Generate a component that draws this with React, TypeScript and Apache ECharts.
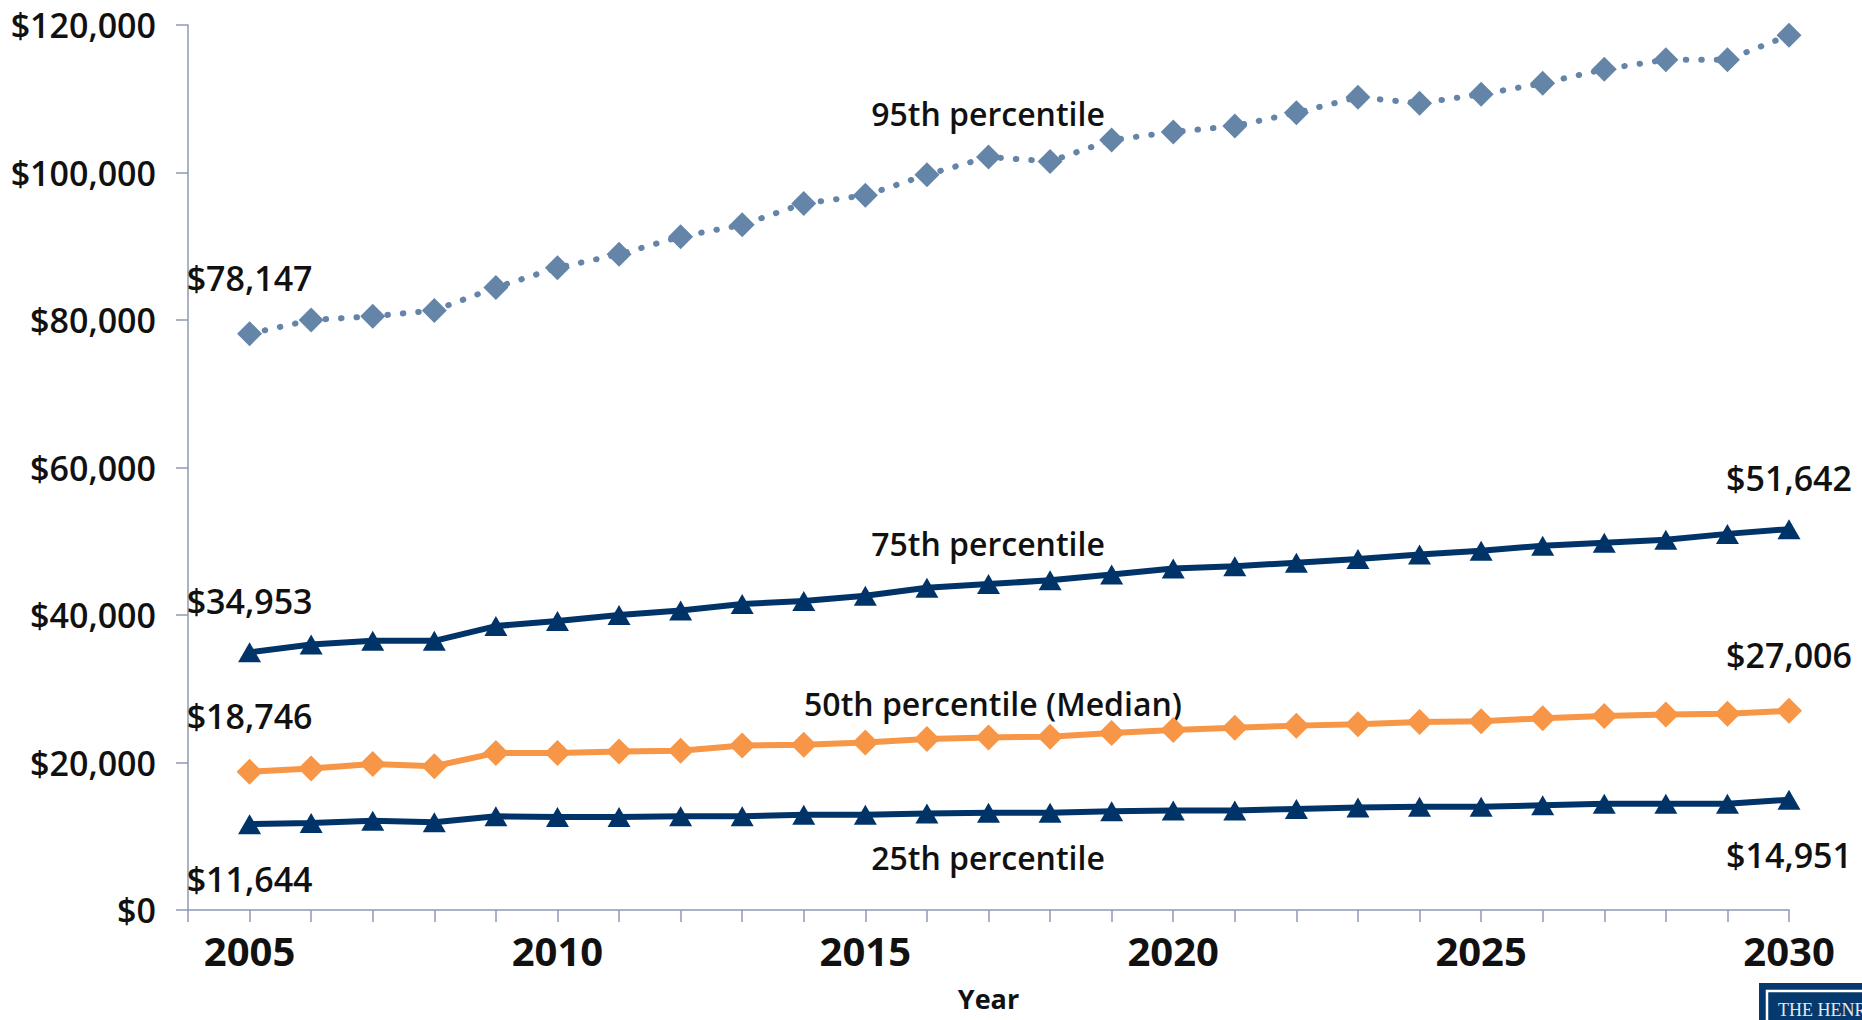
import React, { useEffect, useRef } from "react";
import * as echarts from "echarts";

const years = [2005, 2006, 2007, 2008, 2009, 2010, 2011, 2012, 2013, 2014, 2015, 2016, 2017, 2018, 2019, 2020, 2021, 2022, 2023, 2024, 2025, 2026, 2027, 2028, 2029, 2030];

const p95 = [78147, 80000, 80500, 81300, 84400, 87100, 88900, 91300, 92900, 95800, 96900, 99700, 102100, 101500, 104400, 105500, 106300, 108100, 110200, 109400, 110600, 112100, 114000, 115300, 115300, 118595];
const p75 = [34953, 36000, 36500, 36500, 38500, 39200, 40000, 40600, 41500, 41900, 42600, 43700, 44200, 44700, 45500, 46300, 46600, 47100, 47600, 48200, 48700, 49400, 49800, 50200, 51000, 51642];
const p50 = [18746, 19200, 19800, 19500, 21300, 21300, 21500, 21600, 22300, 22400, 22700, 23200, 23400, 23500, 24000, 24400, 24700, 25000, 25200, 25500, 25600, 26000, 26300, 26500, 26600, 27006];
const p25 = [11644, 11800, 12100, 11900, 12700, 12600, 12600, 12700, 12700, 12900, 12900, 13100, 13200, 13200, 13400, 13500, 13500, 13700, 13900, 14000, 14000, 14200, 14400, 14400, 14400, 14951];

const yTicks = [0, 20000, 40000, 60000, 80000, 100000, 120000];
const seriesNames = ["95th percentile", "75th percentile", "50th percentile (Median)", "25th percentile"];

const FONT = "'Open Sans', 'Noto Sans', sans-serif";

function money(v: number) {
  return "$" + v.toLocaleString("en-US");
}

function build(values: number[], labelPos: "top" | "bottom", dist: number) {
  const last = values.length - 1;
  return values.map((v, i) => {
    const item: any = { value: [years[i], v] };
    if (i === 0 || i === last) {
      item.label = {
        show: true,
        position: labelPos,
        distance: dist,
        formatter: money(v),
        fontFamily: FONT,
        fontSize: 34,
        fontWeight: 600,
        color: "#111",
      };
    }
    return item;
  });
}

export default function App() {
  const ref = useRef<HTMLDivElement>(null);
  useEffect(() => {
    document.body.style.margin = "0";
    const chart = echarts.init(ref.current!, null, { renderer: "svg" });
    const navy = "#003468";
    const orange = "#F79646";
    const steel = "#6585A8";
    const axisColor = "#8C98B4";
    const annotation = (text: string, x: number, y: number) => ({
      type: "text",
      x,
      y,
      style: {
        text,
        fontFamily: FONT,
        fontSize: 32,
        fontWeight: 600,
        fill: "#111",
        textAlign: "center",
        textVerticalAlign: "middle",
      },
    });
    chart.setOption({
      animation: false,
      backgroundColor: "#fff",
      grid: { left: 188, right: 73, top: 25, bottom: 110, containLabel: false, outerBoundsMode: "none" },
      xAxis: {
        type: "value",
        min: 2004,
        max: 2030,
        interval: 1,
        name: "Year",
        nameLocation: "middle",
        nameGap: 75,
        nameTextStyle: { fontFamily: FONT, fontSize: 27, fontWeight: 700, color: "#111", lineHeight: 27 },
        axisLine: { show: true, lineStyle: { color: axisColor, width: 1.5 } },
        axisTick: { show: true, length: 12, lineStyle: { color: axisColor, width: 1.5 } },
        splitLine: { show: false },
        axisLabel: {
          margin: 20,
          fontFamily: FONT,
          fontSize: 40,
          fontWeight: 700,
          color: "#111",
          formatter: (v: number) => (v % 5 === 0 ? String(v) : ""),
        },
      },
      yAxis: {
        type: "value",
        min: yTicks[0],
        max: yTicks[yTicks.length - 1],
        interval: 20000,
        axisLine: { show: true, lineStyle: { color: axisColor, width: 1.5 } },
        axisTick: { show: true, length: 12, lineStyle: { color: axisColor, width: 1.5 } },
        splitLine: { show: false },
        axisLabel: {
          margin: 32,
          fontFamily: FONT,
          fontSize: 34,
          fontWeight: 600,
          color: "#111",
          formatter: (v: number) => money(v),
        },
      },
      series: [
        {
          name: seriesNames[0],
          type: "line",
          data: build(p95, "top", 26),
          symbol: "diamond",
          symbolSize: [25, 25],
          itemStyle: { color: steel },
          lineStyle: { color: steel, width: 6, type: [0.5, 15], cap: "round" },
          z: 3,
        },
        {
          name: seriesNames[1],
          type: "line",
          data: build(p75, "top", 24),
          symbol: "triangle",
          symbolSize: [23, 20],
          itemStyle: { color: navy },
          lineStyle: { color: navy, width: 6 },
        },
        {
          name: seriesNames[2],
          type: "line",
          data: build(p50, "top", 26),
          symbol: "diamond",
          symbolSize: [26, 26],
          itemStyle: { color: orange },
          lineStyle: { color: orange, width: 6 },
        },
        {
          name: seriesNames[3],
          type: "line",
          data: build(p25, "bottom", 28),
          symbol: "triangle",
          symbolSize: [23, 20],
          itemStyle: { color: navy },
          lineStyle: { color: navy, width: 6 },
        },
      ],
      graphic: [
        annotation(seriesNames[0], 988, 113),
        annotation(seriesNames[1], 988, 543),
        annotation(seriesNames[2], 993, 703),
        annotation(seriesNames[3], 988, 857),
        {
          type: "group",
          children: [
            { type: "rect", shape: { x: 1759, y: 983, width: 200, height: 80 }, style: { fill: "#063A6E" } },
            { type: "rect", shape: { x: 1767, y: 991, width: 200, height: 80 }, style: { fill: "none", stroke: "#ffffff", lineWidth: 2.5 } },
            {
              type: "text",
              x: 1778,
              y: 1010,
              style: {
                text: "THE HENRY J. KAISER FAMILY FOUNDATION",
                fontFamily: "'Liberation Serif', 'DejaVu Serif', serif",
                fontSize: 18,
                fill: "#E3E8F0",
                textVerticalAlign: "middle",
              },
            },
          ],
        },
      ],
    });
    return () => chart.dispose();
  }, []);
  return <div ref={ref} style={{ width: 1862, height: 1020, overflow: "hidden" }} />;
}
